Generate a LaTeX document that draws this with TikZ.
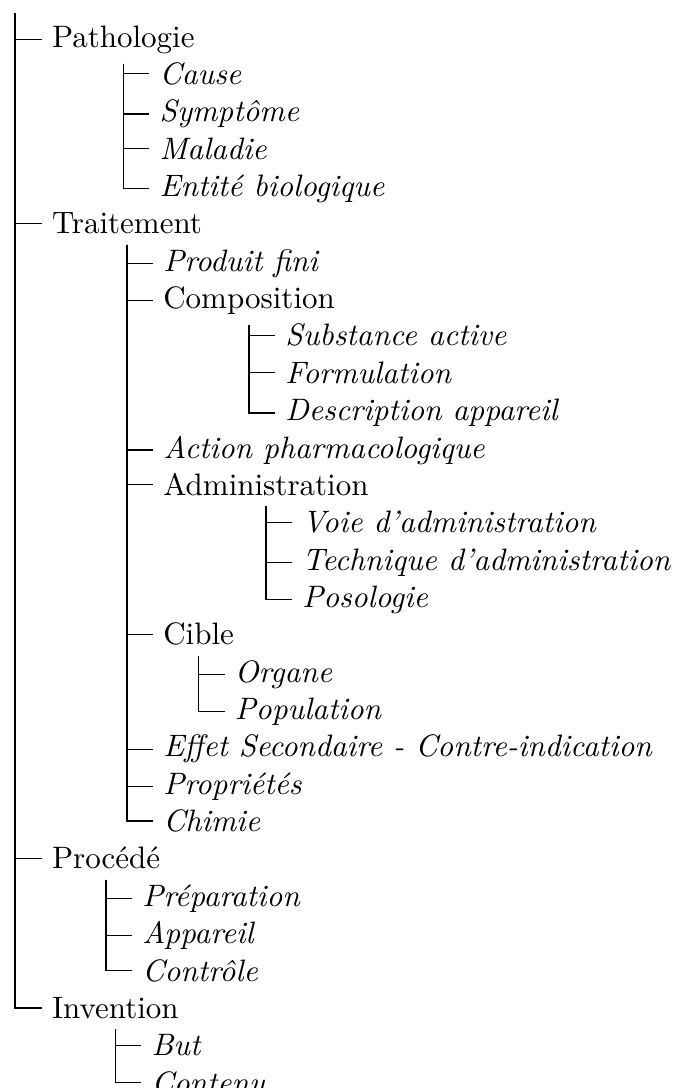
\documentclass[tikz,border=0pt]{standalone}
\usetikzlibrary{calc}
\begin{document}
\begin{tikzpicture}[x=0.32258pt,y=-0.32258pt,
  tn/.style={anchor=base west,inner sep=.3333em,outer sep=0pt,font=\fontsize{10}{12}\selectfont},
  leaf/.style={tn,font=\fontsize{10}{12}\selectfont\itshape},
  conn/.style={draw=black,line width=0.4pt}]
\def\B{37.36}
\def\Y{47.05}
\useasboundingbox (0,0) rectangle (680,1088);
\coordinate (root) at (15,13);
% level 0
\node[tn] (patho) at (41.7,{\Y+0*\B}) {Pathologie};
\node[tn] (trait) at (41.7,{\Y+5*\B}) {Traitement};
\node[tn] (proc) at (41.7,{\Y+22*\B}) {Procédé};
\node[tn] (inv) at (41.7,{\Y+26*\B}) {Invention};
% Pathologie
\node[leaf] (cause) at ($(patho.south |- 0,{\Y+1*\B})+(26,0)$) {Cause};
\node[leaf] (sympt) at ($(patho.south |- 0,{\Y+2*\B})+(26,0)$) {Symptôme};
\node[leaf] (malad) at ($(patho.south |- 0,{\Y+3*\B})+(26,0)$) {Maladie};
\node[leaf] (entite) at ($(patho.south |- 0,{\Y+4*\B})+(26,0)$) {Entité biologique};
% Traitement
\node[leaf] (produit) at ($(trait.south |- 0,{\Y+6*\B})+(26,0)$) {Produit fini};
\node[tn] (compo) at ($(trait.south |- 0,{\Y+7*\B})+(26,0)$) {Composition};
\node[leaf] (subst) at ($(compo.south |- 0,{\Y+8*\B})+(26,0)$) {Substance active};
\node[leaf] (formul) at ($(compo.south |- 0,{\Y+9*\B})+(26,0)$) {Formulation};
\node[leaf] (descr) at ($(compo.south |- 0,{\Y+10*\B})+(26,0)$) {Description appareil};
\node[leaf] (action) at ($(trait.south |- 0,{\Y+11*\B})+(26,0)$) {Action pharmacologique};
\node[tn] (admin) at ($(trait.south |- 0,{\Y+12*\B})+(26,0)$) {Administration};
\node[leaf] (voie) at ($(admin.south |- 0,{\Y+13*\B})+(26,0)$) {Voie d’administration};
\node[leaf] (techn) at ($(admin.south |- 0,{\Y+14*\B})+(26,0)$) {Technique d’administration};
\node[leaf] (poso) at ($(admin.south |- 0,{\Y+15*\B})+(26,0)$) {Posologie};
\node[tn] (cible) at ($(trait.south |- 0,{\Y+16*\B})+(26,0)$) {Cible};
\node[leaf] (organe) at ($(cible.south |- 0,{\Y+17*\B})+(26,0)$) {Organe};
\node[leaf] (popul) at ($(cible.south |- 0,{\Y+18*\B})+(26,0)$) {Population};
\node[leaf] (effet) at ($(trait.south |- 0,{\Y+19*\B})+(26,0)$) {Effet Secondaire - Contre-indication};
\node[leaf] (propr) at ($(trait.south |- 0,{\Y+20*\B})+(26,0)$) {Propriétés};
\node[leaf] (chimie) at ($(trait.south |- 0,{\Y+21*\B})+(26,0)$) {Chimie};
% Procédé
\node[leaf] (prep) at ($(proc.south |- 0,{\Y+23*\B})+(26,0)$) {Préparation};
\node[leaf] (appar) at ($(proc.south |- 0,{\Y+24*\B})+(26,0)$) {Appareil};
\node[leaf] (contr) at ($(proc.south |- 0,{\Y+25*\B})+(26,0)$) {Contrôle};
% Invention
\node[leaf] (but) at ($(inv.south |- 0,{\Y+27*\B})+(26,0)$) {But};
\node[leaf] (contenu) at ($(inv.south |- 0,{\Y+28*\B})+(26,0)$) {Contenu};
% connectors
\foreach \c in {patho,trait,proc,inv} \draw[conn] (root) |- (\c.west);
\foreach \c in {cause,sympt,malad,entite} \draw[conn] (patho.south) |- (\c.west);
\foreach \c in {produit,compo,action,admin,cible,effet,propr,chimie} \draw[conn] (trait.south) |- (\c.west);
\foreach \c in {subst,formul,descr} \draw[conn] (compo.south) |- (\c.west);
\foreach \c in {voie,techn,poso} \draw[conn] (admin.south) |- (\c.west);
\foreach \c in {organe,popul} \draw[conn] (cible.south) |- (\c.west);
\foreach \c in {prep,appar,contr} \draw[conn] (proc.south) |- (\c.west);
\foreach \c in {but,contenu} \draw[conn] (inv.south) |- (\c.west);
\end{tikzpicture}
\end{document}
